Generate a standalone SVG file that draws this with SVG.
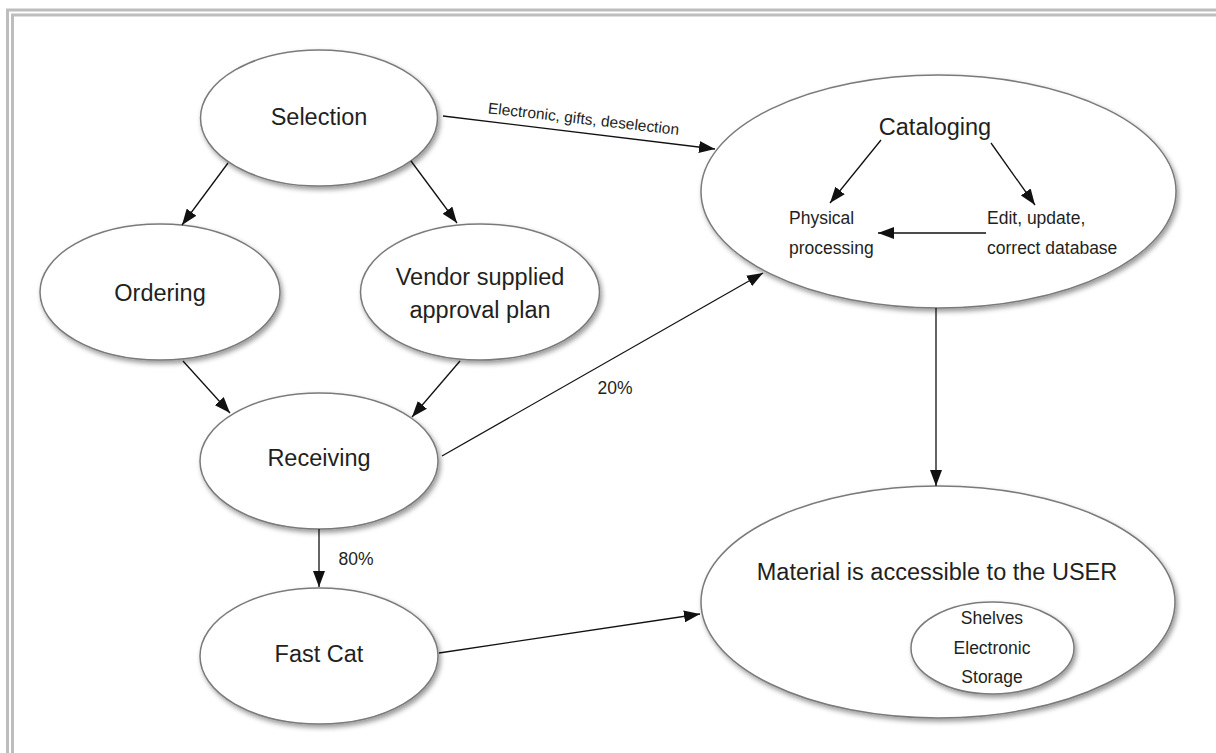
<svg xmlns="http://www.w3.org/2000/svg" width="1216" height="753" viewBox="0 0 1216 753">
<style>
.node{fill:#ffffff;stroke:#7a7a7a;stroke-width:1.5;filter:url(#sh)}
.t{font-family:"Liberation Sans",Arial,sans-serif;fill:#231f20;text-anchor:middle}
.big{font-size:23.5px}
.sm{font-size:17.5px}
.lbl{font-size:15.5px}
.e{stroke:#111;stroke-width:1.3;fill:none;marker-end:url(#ah)}
.frame{stroke:#bdbdbd;stroke-width:3;fill:none}
</style>
<defs>
<filter id="sh" x="-10%" y="-10%" width="125%" height="130%">
<feDropShadow dx="2" dy="3" stdDeviation="2.5" flood-color="#000" flood-opacity="0.4"/>
</filter>
<marker id="ah" markerUnits="userSpaceOnUse" markerWidth="18" markerHeight="12" refX="16" refY="6" orient="auto">
<path d="M0,0 L16,6 L0,12 Z" fill="#111"/>
</marker>
</defs>
<rect width="1216" height="753" fill="#ffffff"/>
<g id="frame">
<path class="frame" d="M7.5,753 V10 H1216"/>
<path class="frame" d="M12.5,753 V15 H1216"/>
</g>
<g id="selection"><ellipse class="node" cx="319" cy="118" rx="118.5" ry="68"/><text class="t big" x="319" y="125">Selection</text></g>
<g id="ordering"><ellipse class="node" cx="160" cy="292" rx="120" ry="68"/><text class="t big" x="160" y="301">Ordering</text></g>
<g id="vendor"><ellipse class="node" cx="480" cy="292" rx="119.5" ry="68"/><text class="t big" x="480" y="285">Vendor supplied</text><text class="t big" x="480" y="318">approval plan</text></g>
<g id="receiving"><ellipse class="node" cx="319" cy="461" rx="119" ry="68"/><text class="t big" x="319" y="466">Receiving</text></g>
<g id="fastcat"><ellipse class="node" cx="319" cy="656" rx="119" ry="68"/><text class="t big" x="319" y="662">Fast Cat</text></g>
<g id="cataloging"><ellipse class="node" cx="938.5" cy="191.5" rx="237.5" ry="116.5"/><text class="t big" x="935" y="135">Cataloging</text>
<text class="t sm" x="789" y="224" style="text-anchor:start">Physical</text><text class="t sm" x="789" y="254" style="text-anchor:start">processing</text>
<text class="t sm" x="987" y="224" style="text-anchor:start">Edit, update,</text><text class="t sm" x="987" y="254" style="text-anchor:start">correct database</text></g>
<g id="material"><ellipse class="node" cx="938" cy="602" rx="237" ry="116"/><text class="t big" x="937" y="580">Material is accessible to the USER</text>
<g id="storage"><ellipse class="node" cx="992.5" cy="648" rx="81.5" ry="46"/><text class="t sm" x="992" y="624">Shelves</text><text class="t sm" x="992" y="654">Electronic</text><text class="t sm" x="992" y="683">Storage</text></g></g>
<g id="connectors">
<line class="e" x1="443" y1="116" x2="715" y2="149"/>
<line class="e" x1="228" y1="163" x2="182" y2="225"/>
<line class="e" x1="411" y1="161" x2="457" y2="223"/>
<line class="e" x1="183" y1="361" x2="230" y2="413"/>
<line class="e" x1="460" y1="361" x2="412" y2="417"/>
<line class="e" x1="442" y1="456" x2="763" y2="273"/>
<line class="e" x1="319" y1="529" x2="319" y2="587"/>
<line class="e" x1="439" y1="653" x2="700" y2="614"/>
<line class="e" x1="936" y1="308" x2="936" y2="486"/>
<line class="e" x1="881" y1="140" x2="830" y2="203"/>
<line class="e" x1="991" y1="143" x2="1035" y2="205"/>
<line class="e" x1="986" y1="233" x2="878" y2="233"/>
<text class="t lbl" x="583" y="124" transform="rotate(6.5 583 124)">Electronic, gifts, deselection</text>
<text class="t sm" x="615" y="394">20%</text>
<text class="t sm" x="356" y="565">80%</text>
</g>
</svg>
